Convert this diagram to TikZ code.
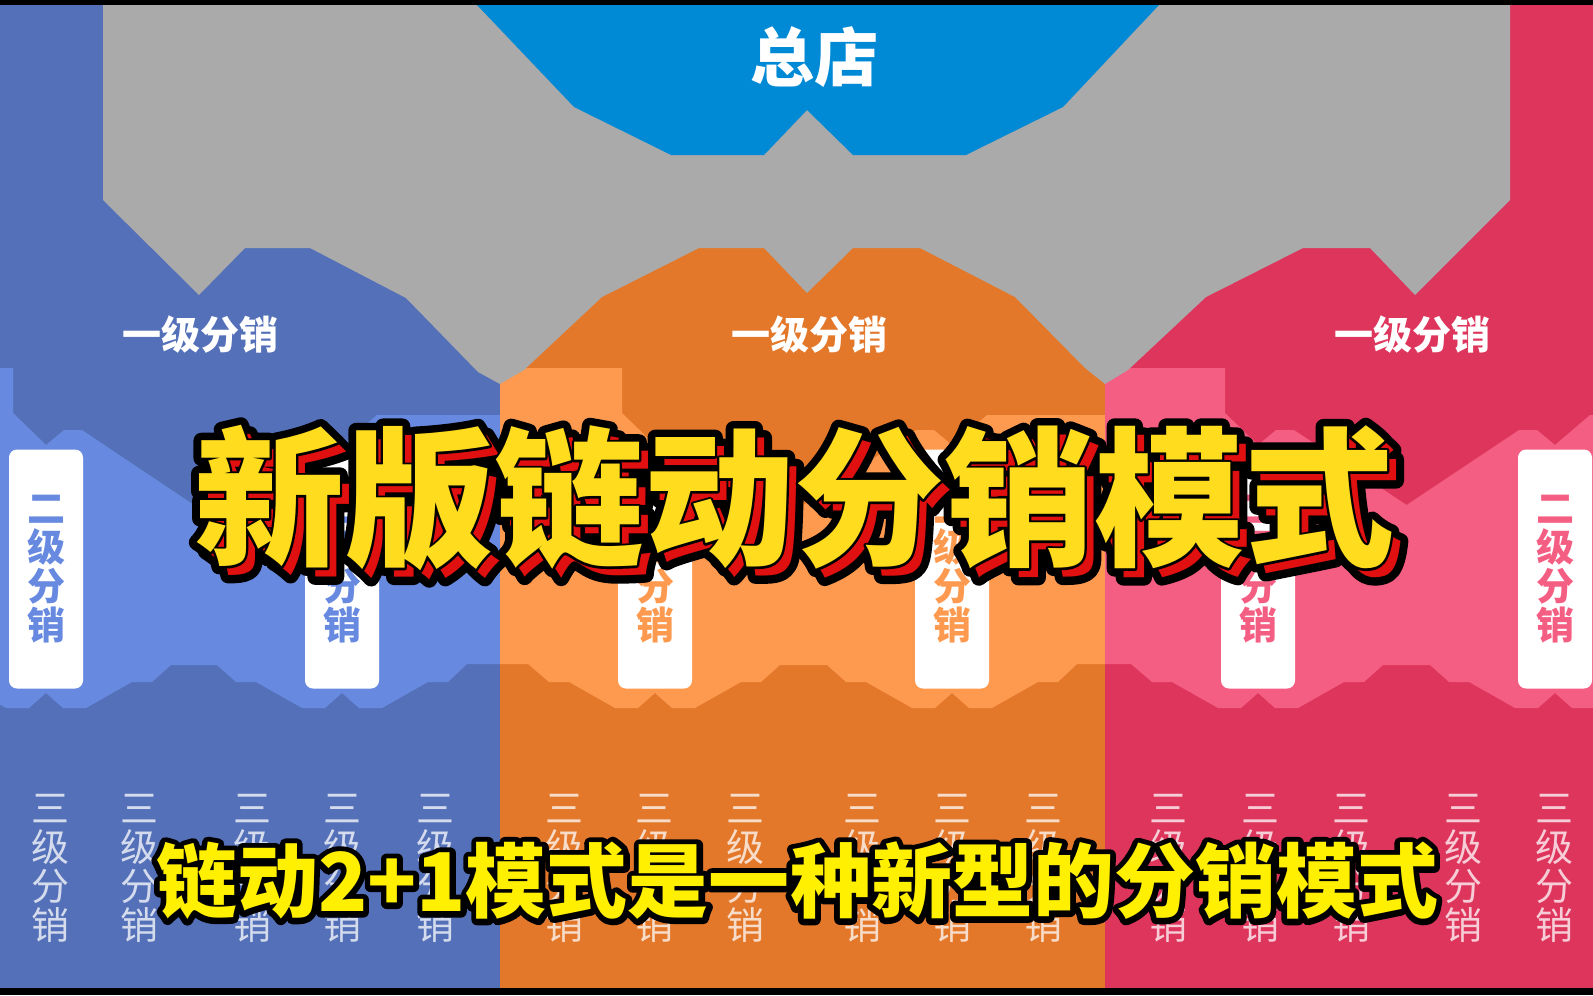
\documentclass[tikz,border=0pt]{standalone}
\usepackage{fontspec}
\newfontfamily\cjk{Noto Sans CJK SC}
\newfontfamily\cjkTout{Noto Sans CJK SC}[FakeBold=10.5, BoldFeatures={FakeBold=10.5}]
\newfontfamily\cjkTthin{Noto Sans CJK SC}[FakeBold=3, BoldFeatures={FakeBold=3}]
\newfontfamily\cjkSout{Noto Sans CJK SC}[FakeBold=14, BoldFeatures={FakeBold=14}]
\definecolor{bluedark}{HTML}{5470B8}
\definecolor{bluelight}{HTML}{678AE0}
\definecolor{orangedark}{HTML}{E3782A}
\definecolor{orangelight}{HTML}{FE9A50}
\definecolor{reddark}{HTML}{DE355C}
\definecolor{redlight}{HTML}{F55E83}
\definecolor{graybg}{HTML}{AAAAAA}
\definecolor{hqblue}{HTML}{008AD6}
\definecolor{titleyellow}{HTML}{FFDC1E}
\definecolor{subyellow}{HTML}{FFEF00}
\definecolor{shadowred}{HTML}{E01010}
\tikzset{
  hqtext/.style={text=white, inner sep=0, font=\cjk\bfseries\fontsize{32}{32}\selectfont},
  lvlone/.style={text=white, inner sep=0, font=\cjk\bfseries\fontsize{19.5}{19.5}\selectfont},
  lvltwo/.style={fill=white, rounded corners=4pt, minimum width=37pt, minimum height=119.5pt,
    inner sep=0, align=center, font=\cjk\bfseries\fontsize{19}{19.5}\selectfont},
  lvlthree/.style={text=white, text opacity=0.75, align=center, inner sep=0,
    font=\cjk\fontsize{19}{19.5}\selectfont},
  titlefont/.style={inner sep=0, font=\cjk\bfseries\fontsize{75}{75}\selectfont},
  titleout/.style={inner sep=0, text=black, font=\cjkTout\bfseries\fontsize{75}{75}\selectfont},
  titlethin/.style={inner sep=0, text=black, font=\cjkTthin\bfseries\fontsize{75}{75}\selectfont},
  subfont/.style={inner sep=0, font=\cjk\bfseries\fontsize{40.5}{40.5}\selectfont},
  subout/.style={inner sep=0, text=black, font=\cjkSout\bfseries\fontsize{40.5}{40.5}\selectfont},
}
\newcommand\lightzone[5]{%
  \begin{scope}
    \clip (#2,5) rectangle (#3,988);
    \fill[#1] (#2,368) -- ({#4-33},368) -- ({#4-33},413) -- (#4,445) -- ({#4+18},430) -- ({#4+36},430)
      -- ({(#4+#5)/2},505) -- ({#5-36},430) -- ({#5-18},430) -- (#5,445) -- ({#5+35},415) -- (#3,415)
      -- (#3,664) -- ({#5+125},664) -- ({#5+106},682) -- ({#5+86},682) -- ({#5+40},708) -- ({#5+17},708)
      -- (#5,693) -- ({#5-17},708) -- ({#5-40},708) -- ({#5-86},682) -- ({#5-106},682) -- ({#5-125},665)
      -- ({#4+125},665) -- ({#4+106},682) -- ({#4+86},682) -- ({#4+40},708) -- ({#4+17},708)
      -- (#4,693) -- ({#4-17},708) -- ({#4-40},708) -- ({#4-86},682) -- ({#4-106},682) -- ({#4-127},664)
      -- (#2,664) -- cycle;
  \end{scope}}
\begin{document}
\begin{tikzpicture}[x=0.5pt,y=-0.5pt]
\useasboundingbox (0,0) rectangle (1593,995);
% columns
\fill[bluedark] (0,0) rectangle (500,995);
\fill[orangedark] (500,0) rectangle (1105,995);
\fill[reddark] (1105,0) rectangle (1593,995);
% second level light zones
\lightzone{bluelight}{0}{500}{46}{342}
\lightzone{orangelight}{500}{1105}{655}{952}
\lightzone{redlight}{1105}{1593}{1258}{1555}
% gray link region
\fill[graybg] (103,5) -- (103,200) -- (199,295) -- (245,248) -- (310,248) -- (406,298) -- (478,372)
  -- (500,384) -- (524,370) -- (602,297) -- (699,248) -- (764,248) -- (807,293) -- (853,248)
  -- (920,248) -- (1015,297) -- (1085,368) -- (1105,384) -- (1128,370) -- (1206,297) -- (1303,248)
  -- (1370,248) -- (1415,295) -- (1510,200) -- (1510,5) -- cycle;
% head store shape
\fill[hqblue] (477,5) -- (574,107) -- (671,155) -- (764,155) -- (807,110) -- (853,155) -- (966,155)
  -- (1063,107) -- (1159,5) -- cycle;
% black bars
\fill[black] (0,0) rectangle (1593,5);
\fill[black] (0,988) rectangle (1593,995);
% labels
\node[hqtext] (hq) at (814,57) {总店};
\node[lvlone] (l1a) at (200,335) {一级分销};
\node[lvlone] (l1b) at (809,335) {一级分销};
\node[lvlone] (l1c) at (1412,335) {一级分销};
% second level boxes
\node[lvltwo, text=bluelight] (l2a) at (46,569) {二\\级\\分\\销};
\node[lvltwo, text=bluelight] (l2b) at (342,569) {二\\级\\分\\销};
\node[lvltwo, text=orangelight] (l2c) at (655,569) {二\\级\\分\\销};
\node[lvltwo, text=orangelight] (l2d) at (952,569) {二\\级\\分\\销};
\node[lvltwo, text=redlight] (l2e) at (1258,569) {二\\级\\分\\销};
\node[lvltwo, text=redlight] (l2f) at (1555,569) {二\\级\\分\\销};
% third level labels
\foreach \x [count=\i] in {51,139,252,342,435,564,654,745,862,952,1043,1168,1260,1351,1463,1554}
  \node[lvlthree] (l3\i) at (\x,868) {三\\级\\分\\销};
\begin{scope}[line join=round, line cap=round]
% title with outline and shadow
\node[titleout] (tshout) at (803,507) {新版链动分销模式};
\node[titleout] (tmout) at (794,498) {新版链动分销模式};
\node[titlefont, text=shadowred] (tshadow) at (803,507) {新版链动分销模式};
\node[titlethin] (tthin) at (794,498) {新版链动分销模式};
\node[titlefont, text=titleyellow] (title) at (794,498) {新版链动分销模式};
% subtitle
\node[subout] (subout) at (797,881) {链动2+1模式是一种新型的分销模式};
\node[subfont, text=subyellow] (subtitle) at (797,881) {链动2+1模式是一种新型的分销模式};
\end{scope}
\end{tikzpicture}
\end{document}
